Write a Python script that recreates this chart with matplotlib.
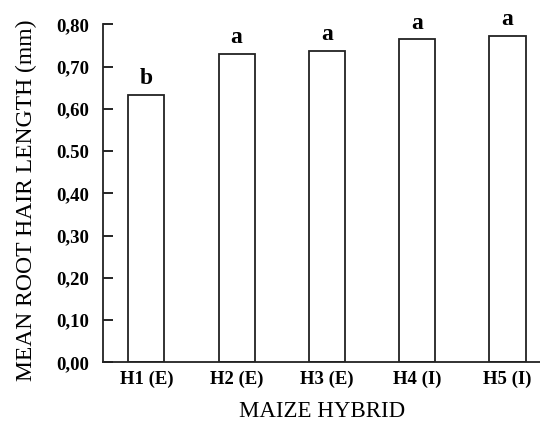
import matplotlib
matplotlib.use("Agg")
import matplotlib.pyplot as plt

categories = ["H1 (E)", "H2 (E)", "H3 (E)", "H4 (I)", "H5 (I)"]
values = [0.634, 0.731, 0.737, 0.765, 0.773]
letters = ["b", "a", "a", "a", "a"]
yticks = [0.0, 0.1, 0.2, 0.3, 0.4, 0.5, 0.6, 0.7, 0.8]
ytick_labels = ["0,00", "0,10", "0,20", "0,30", "0,40", "0.50", "0,60", "0,70", "0,80"]

plt.rcParams['font.family'] = ['Liberation Serif', 'DejaVu Serif']

fig = plt.figure(figsize=(5.40, 4.21), dpi=100)
ax = fig.add_axes([0.1907, 0.139, 0.8093, 0.803])

x = list(range(len(categories)))
ax.bar(x, values, width=0.4, color="white", edgecolor="#222222", linewidth=1.3)
for xi, v, l in zip(x, values, letters):
    ax.annotate(l, (xi, v), xytext=(0, 4), textcoords="offset points",
                ha="center", va="bottom", fontsize=17, fontweight="bold")

ax.set_xlim(-0.48, 4.36)
ax.set_ylim(0, 0.8)
ax.set_yticks(yticks)
ax.set_yticklabels(ytick_labels, fontsize=13.5, fontweight="bold")
ax.set_xticks(x)
ax.set_xticklabels(categories, fontsize=13.5, fontweight="bold")
ax.tick_params(axis="x", length=0, pad=6)
ax.tick_params(axis="y", direction="in", length=7, width=1.2, pad=10)
for s in ["top", "right"]:
    ax.spines[s].set_visible(False)
for s in ["left", "bottom"]:
    ax.spines[s].set_linewidth(1.3)
    ax.spines[s].set_color("#222222")
ax.set_ylabel("MEAN ROOT HAIR LENGTH (mm)", fontsize=17, va="center")
ax.yaxis.set_label_coords(-0.176, 0.481)
ax.set_xlabel("MAIZE HYBRID", fontsize=16.5, va="center")
ax.xaxis.set_label_coords(0.501, -0.146)

fig.savefig("out.png", dpi=100)
